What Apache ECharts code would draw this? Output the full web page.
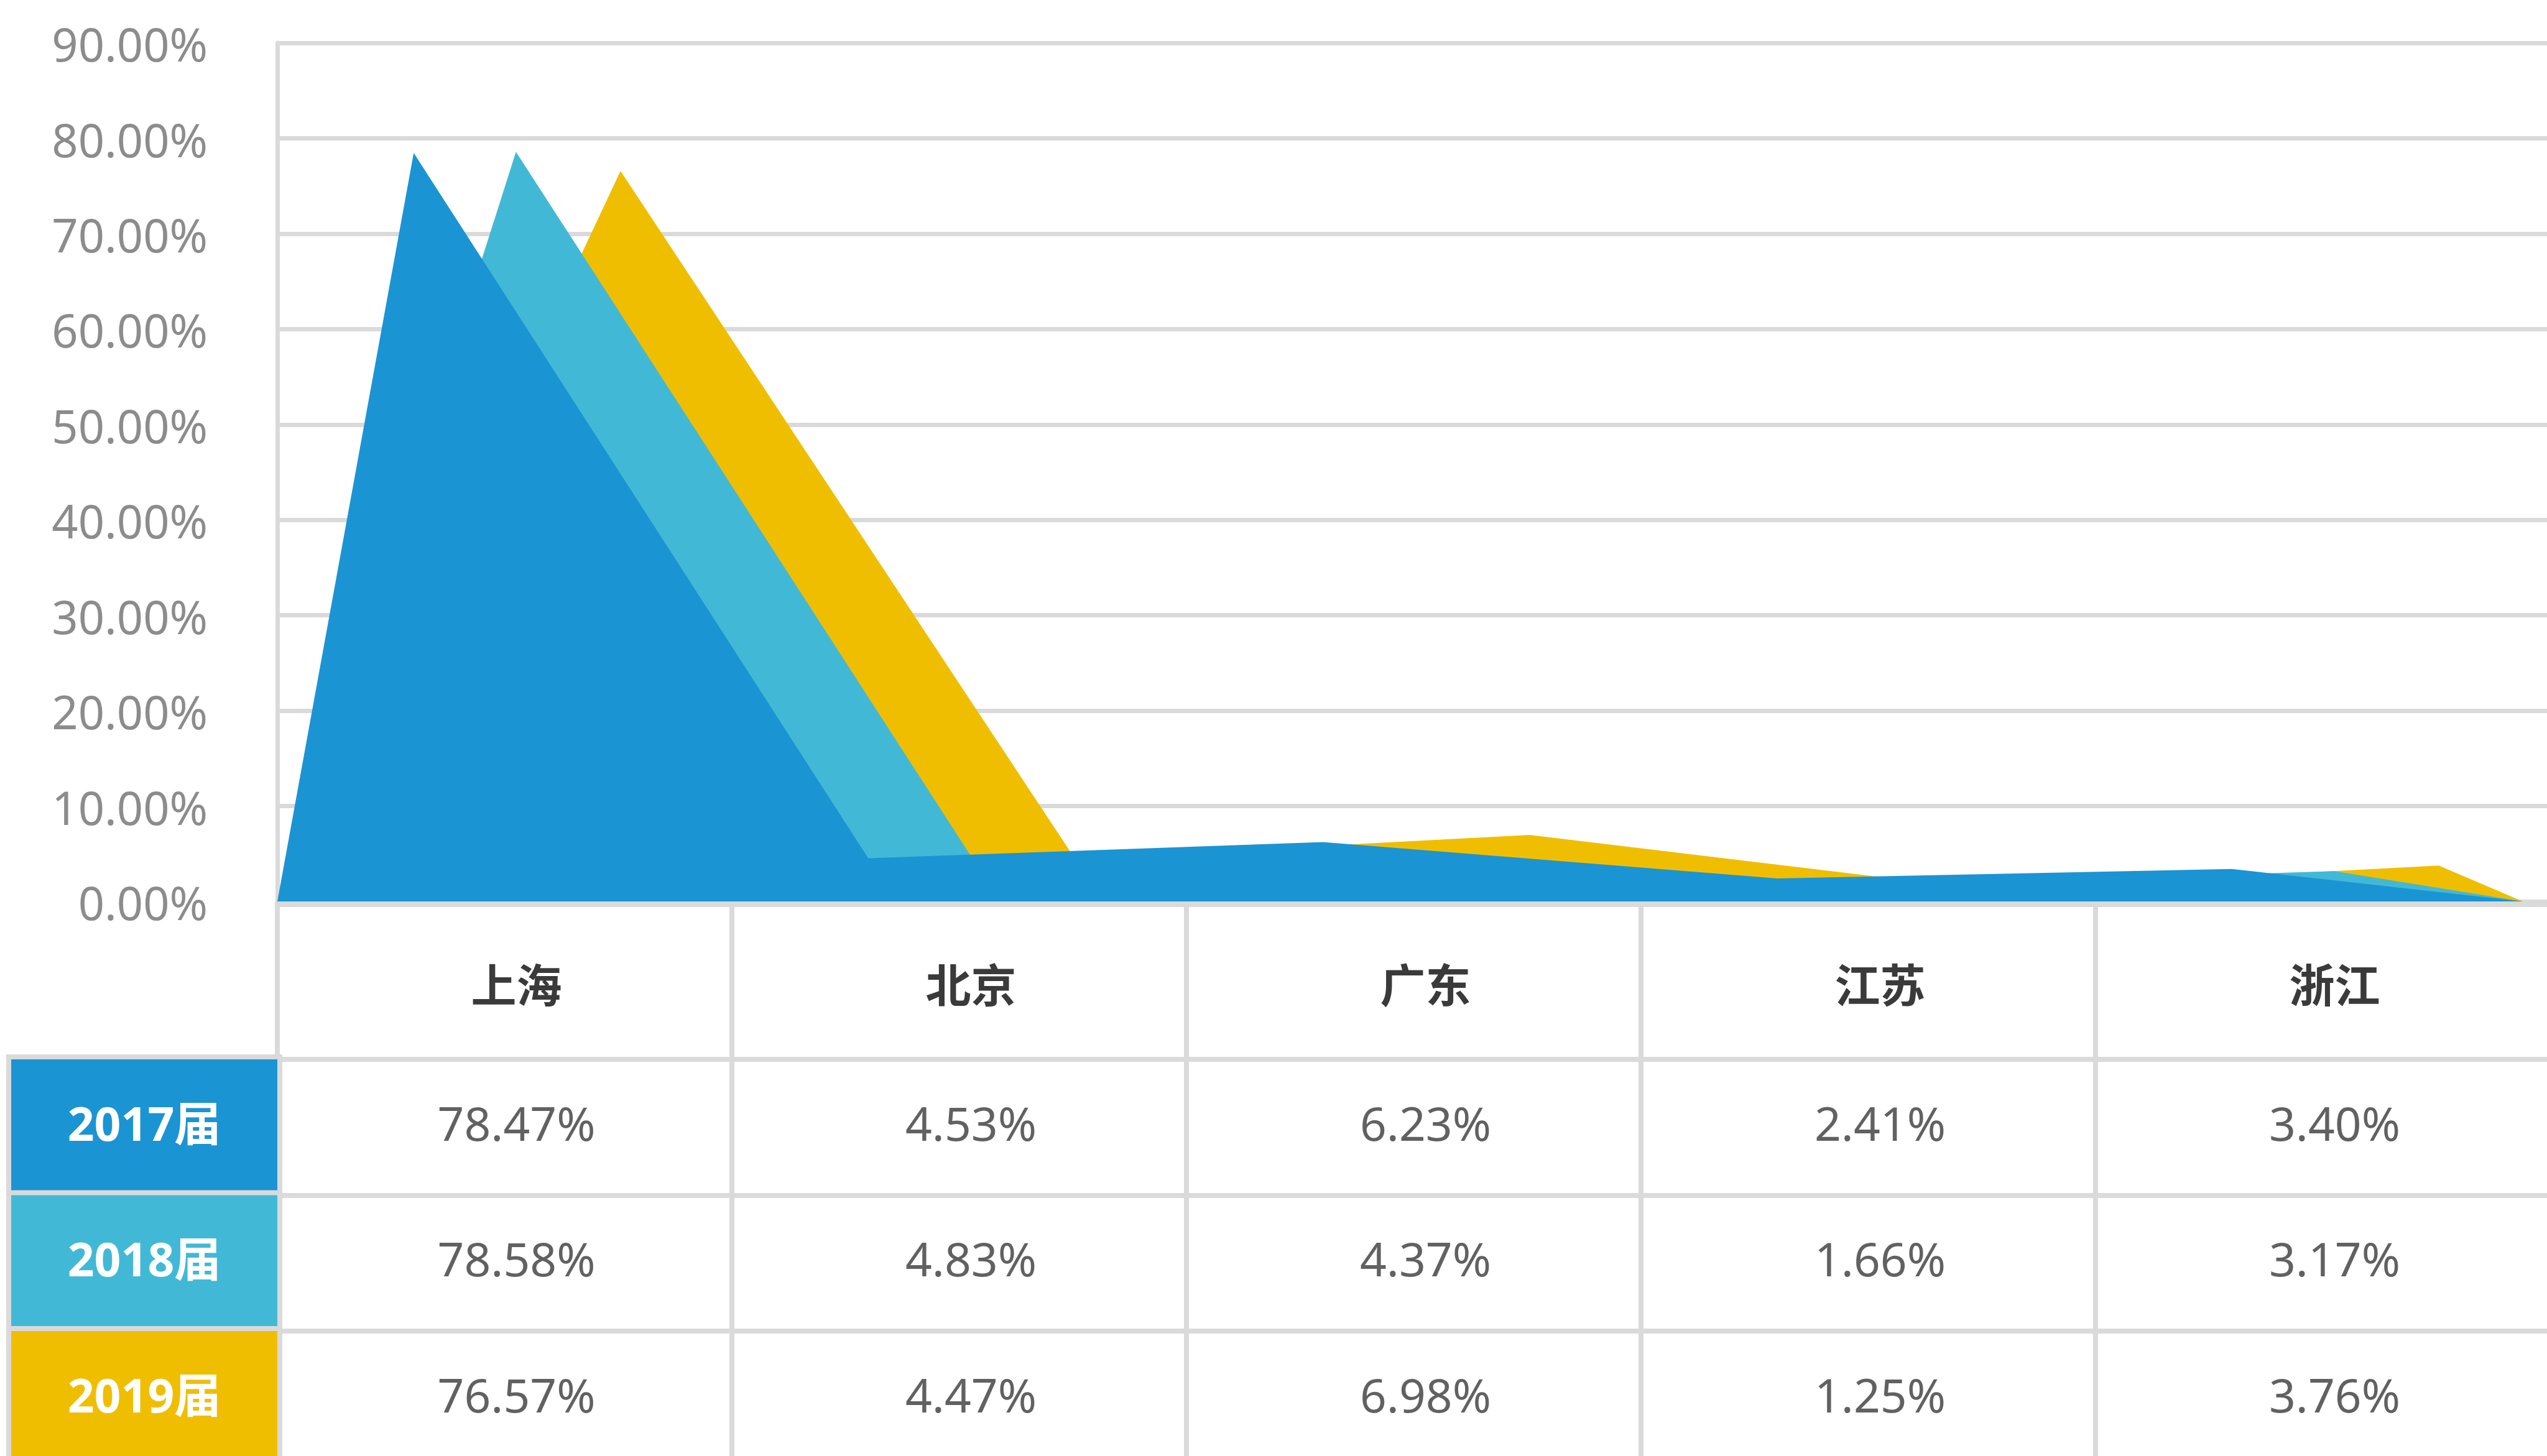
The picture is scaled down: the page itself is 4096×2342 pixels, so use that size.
<!DOCTYPE html>
<html>
<head>
<meta charset="utf-8">
<title>生源地分布</title>
<script src="https://cdn.jsdelivr.net/npm/echarts@6/dist/echarts.min.js"></script>
<style>
  html, body { margin: 0; padding: 0; background: #ffffff; }
  #chart { width: 4096px; height: 2342px; }
</style>
</head>
<body>
<div id="chart"></div>
<script>
// Categories and per-cohort shares (%)
const cities = ['上海', '北京', '广东', '江苏', '浙江'];
const cohorts = ['2017届', '2018届', '2019届'];
const share2017 = [78.47, 4.53, 6.23, 2.41, 3.40];
const share2018 = [78.58, 4.83, 4.37, 1.66, 3.17];
const share2019 = [76.57, 4.47, 6.98, 1.25, 3.76];
const yTicks = { min: 0, max: 90, step: 10 };

// Look and layout
const colors = ['#1B94D3', '#41B9D6', '#F0BE00'];
const shares = [share2017, share2018, share2019];
const seriesShift = [0.30, 0.525, 0.755];   // where each cohort sits inside a city band
const areaEnd = 4.94;                       // right-hand foot of every area
const GRID_C = '#dadada';
const LEFT = 446, BAND = 731;
const PLOT_TOP = 69, PLOT_H = 1381;
const HEADER_H = 254, ROW_H = 218.5;
const TABLE_TOP = PLOT_TOP + PLOT_H + HEADER_H;
const LATIN = '"Noto Sans", "Noto Sans CJK SC", sans-serif';
const CJK = '"Noto Sans CJK SC", "Noto Sans", sans-serif';

const chart = echarts.init(document.getElementById('chart'));

// Area outlines: left foot, one vertex per city, right foot
function areaData(s) {
  const pts = [[0, 0]];
  shares[s].forEach((v, i) => pts.push([i + seriesShift[s], v]));
  pts.push([areaEnd, 0]);
  return pts;
}

// Front-most cohort last so it is painted on top
const areaSeries = [2, 1, 0].map(s => ({
  name: cohorts[s],
  type: 'line',
  xAxisIndex: 0,
  yAxisIndex: 0,
  data: areaData(s),
  symbol: 'none',
  lineStyle: { width: 0 },
  areaStyle: { color: colors[s], opacity: 1 },
  silent: true,
  z: 3 + (2 - s)
}));

const cellData = [];
shares.forEach((arr, s) => arr.forEach((v, i) => cellData.push([i, s, v])));

const rowRich = {};
colors.forEach((c, s) => {
  rowRich['r' + s] = {
    backgroundColor: c,
    borderColor: GRID_C,
    borderWidth: 8,
    width: 428,
    height: ROW_H,
    lineHeight: ROW_H,
    align: 'center',
    color: '#ffffff',
    fontSize: 75,
    fontWeight: 'bold',
    fontFamily: LATIN
  };
});

chart.setOption({
  animation: false,
  backgroundColor: '#ffffff',
  grid: [
    { left: LEFT, top: PLOT_TOP, width: BAND * 5, height: PLOT_H, outerBoundsMode: 'none' },
    { left: LEFT, top: TABLE_TOP, width: BAND * 5, height: ROW_H * 3, outerBoundsMode: 'none' }
  ],
  xAxis: [
    {
      gridIndex: 0,
      type: 'value',
      min: 0,
      max: 5,
      offset: 5,
      axisLine: { show: true, onZero: false, lineStyle: { color: GRID_C, width: 7 } },
      axisTick: { show: false },
      axisLabel: { show: false },
      splitLine: { show: false }
    },
    {
      gridIndex: 1,
      type: 'category',
      data: cities,
      position: 'top',
      boundaryGap: true,
      axisLine: { show: true, lineStyle: { color: GRID_C, width: 8 } },
      axisTick: { show: true, interval: 0, length: HEADER_H, lineStyle: { color: GRID_C, width: 8 } },
      axisLabel: {
        show: true,
        interval: 0,
        margin: 120,
        verticalAlign: 'middle',
        padding: [0, 0, 0, 38],
        fontSize: 73,
        fontWeight: 'bold',
        color: '#3a3a3a',
        fontFamily: CJK
      },
      splitLine: { show: true, interval: 0, lineStyle: { color: GRID_C, width: 8 } }
    }
  ],
  yAxis: [
    {
      gridIndex: 0,
      type: 'value',
      min: yTicks.min,
      max: yTicks.max,
      interval: yTicks.step,
      axisLine: { show: true, lineStyle: { color: GRID_C, width: 7 } },
      axisTick: { show: false },
      splitLine: { show: true, lineStyle: { color: GRID_C, width: 7 } },
      axisLabel: {
        margin: 112,
        verticalAlign: 'top',
        lineHeight: 18,
        fontSize: 74,
        color: '#8c8c8c',
        fontFamily: LATIN,
        formatter: v => v.toFixed(2) + '%'
      }
    },
    {
      gridIndex: 1,
      type: 'category',
      data: cohorts,
      inverse: true,
      axisLine: { show: true, lineStyle: { color: GRID_C, width: 8 } },
      axisTick: { show: false },
      splitLine: { show: true, interval: 0, lineStyle: { color: GRID_C, width: 8 } },
      axisLabel: {
        interval: 0,
        margin: 0,
        formatter: (v, i) => '{r' + i + '|' + v + '}',
        rich: rowRich
      }
    }
  ],
  series: areaSeries.concat([{
    type: 'scatter',
    xAxisIndex: 1,
    yAxisIndex: 1,
    data: cellData,
    symbolSize: 1,
    itemStyle: { color: 'rgba(0,0,0,0)' },
    silent: true,
    label: {
      show: true,
      position: 'inside',
      offset: [19, 0],
      fontSize: 75,
      color: '#3a3a3a',
      fontFamily: LATIN,
      formatter: p => p.value[2].toFixed(2) + '%'
    }
  }])
});
</script>
</body>
</html>
